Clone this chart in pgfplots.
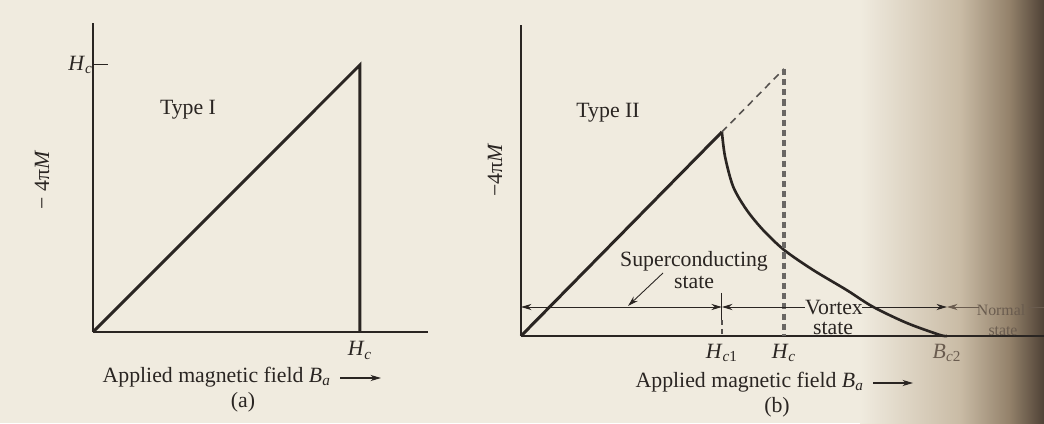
\documentclass[border=0pt]{standalone}
\usepackage{fontspec}
\setmainfont{Liberation Serif}
\usepackage{pgfplots}
\pgfplotsset{compat=1.18}
\usetikzlibrary{arrows.meta}

\definecolor{paper}{HTML}{F0EBDF}
\definecolor{ink}{HTML}{2A2522}
\definecolor{fade}{HTML}{6A5C4F}
\definecolor{shadeA}{HTML}{C9BBA5}
\definecolor{shadeB}{HTML}{928069}
\definecolor{shadeC}{HTML}{4F4236}

\newcommand{\Hsub}[1]{\textit{H}\textsubscript{\textit{#1}}}
\newcommand{\figfont}{\fontsize{12.4}{14}\selectfont}

\tikzset{arr/.style={ink, line width=0.5pt}}

\pgfplotsset{
  magnet/.style={
    scale only axis, xmin=0, ymin=0,
    axis x line*=bottom, axis y line*=left,
    axis line style={line width=1.1pt, ink},
    tick align=inside, major tick length=0.3cm,
    tick style={ink, line width=0.6pt},
    xtick style={draw=none},
    tick label style={font=\figfont, text=ink},
    anchor=south west,
    clip=false,
  },
}

\begin{document}
\begin{tikzpicture}[font=\figfont]
% scanned page background
\fill[paper] (0,0) rectangle (20.88,8.46);
\shade[left color=paper, right color=shadeA] (17.2,0) rectangle (19.21,8.46);
\shade[left color=shadeA, right color=shadeB] (19.2,0) rectangle (20.21,8.46);
\shade[left color=shadeB, right color=shadeC] (20.2,0) rectangle (20.88,8.46);

% (a) type I
\begin{axis}[magnet, at={(1.86cm,1.82cm)}, width=6.70cm, height=6.18cm,
  xmax=1.255, ymax=1.157,
  xtick={1}, xticklabels={\Hsub{c}},
  ytick={1}, yticklabels={\Hsub{c}},
  xticklabel style={yshift=-2pt},
  yticklabel style={inner xsep=0pt}]
\addplot[ink, line width=1.7pt, line join=miter] coordinates {(0,0) (1,1) (1,0)};
\end{axis}

% (b) type II
\begin{axis}[magnet, at={(10.42cm,1.74cm)}, width=10.46cm, height=6.22cm,
  xmax=1.989, ymax=1.169,
  xtick={0.764,1,1.62},
  xticklabels={\textit{H}\textsubscript{\textit{c}1}, \Hsub{c},
    \textcolor{fade}{\textit{B}\textsubscript{\textit{c}2}}},
  xticklabel style={yshift=-1pt},
  ytick=\empty]
\addplot[ink, line width=1.7pt] coordinates {(0,0) (0.764,0.767)};
\addplot[ink, line width=1.5pt, smooth] coordinates {
  (0.764,0.767) (0.776,0.674) (0.807,0.561) (0.858,0.474) (0.921,0.398)
  (1.001,0.323) (1.111,0.248) (1.238,0.173) (1.338,0.110) (1.467,0.049)
  (1.593,0.004) (1.620,0)};
\addplot[ink!80, line width=0.9pt, dash pattern=on 4pt off 3pt] coordinates {(0.764,0.767) (1,1.004)};
\addplot[ink!70, line width=2pt, dash pattern=on 3.5pt off 2.3pt] coordinates {(1,1.004) (1,0)};
\addplot[ink, line width=0.6pt] coordinates {(0.764,0.162) (0.764,0.06)};
\addplot[ink!80, line width=1pt, dash pattern=on 3pt off 2pt] coordinates {(0.764,0.06) (0.764,0)};
\addplot[arr, {Stealth[length=6pt,width=3.5pt]}-{Stealth[length=6pt,width=3.5pt]}] coordinates {(0,0.109) (0.764,0.109)};
\addplot[arr, {Stealth[length=6pt,width=3.5pt]}-] coordinates {(0.764,0.109) (1.08,0.109)};
\addplot[arr, -{Stealth[length=6pt,width=3.5pt]}] coordinates {(1.297,0.109) (1.62,0.109)};
\addplot[arr, fade, {Stealth[length=6pt,width=3.5pt]}-] coordinates {(1.62,0.109) (1.74,0.109)};
\addplot[arr, fade] coordinates {(1.93,0.109) (1.989,0.109)};
\end{axis}

% labels, panel (a)
\node[ink] at (3.76,6.26) {Type I};
\node[ink, rotate=90] at (0.84,4.86) {− 4π\textit{M}};
\node[ink, anchor=east] at (6.74,0.92) {Applied magnetic field \textit{B}\textsubscript{\textit{a}}};
\draw[ink, line width=0.6pt, -{Stealth[length=6pt,width=3.5pt]}] (6.80,0.90) -- (7.62,0.90);
\node[ink] at (4.86,0.42) {(a)};

% labels, panel (b)
\node[ink] at (12.16,6.20) {Type II};
\node[ink, rotate=90] at (9.90,5.06) {−4π\textit{M}};
\node[ink, align=center] at (13.88,3.06) {Superconducting\\[-1pt]state};
\draw[arr, -{Stealth[length=6pt,width=3.5pt]}] (13.26,3.00) -- (12.56,2.34);
\node[ink] at (16.68,2.30) {Vortex};
\node[ink] at (16.66,1.90) {state};
\node[fade, font=\fontsize{9}{10}\selectfont] at (20.02,2.26) {Normal};
\node[fade, font=\fontsize{9}{10}\selectfont] at (20.06,1.84) {state};
\node[ink, anchor=east] at (17.40,0.82) {Applied magnetic field \textit{B}\textsubscript{\textit{a}}};
\draw[ink, line width=0.6pt, -{Stealth[length=6pt,width=3.5pt]}] (17.46,0.80) -- (18.26,0.80);
\node[ink] at (15.54,0.32) {(b)};

\pgfresetboundingbox
\useasboundingbox (0,0) rectangle (20.88,8.46);
\end{tikzpicture}
\end{document}
